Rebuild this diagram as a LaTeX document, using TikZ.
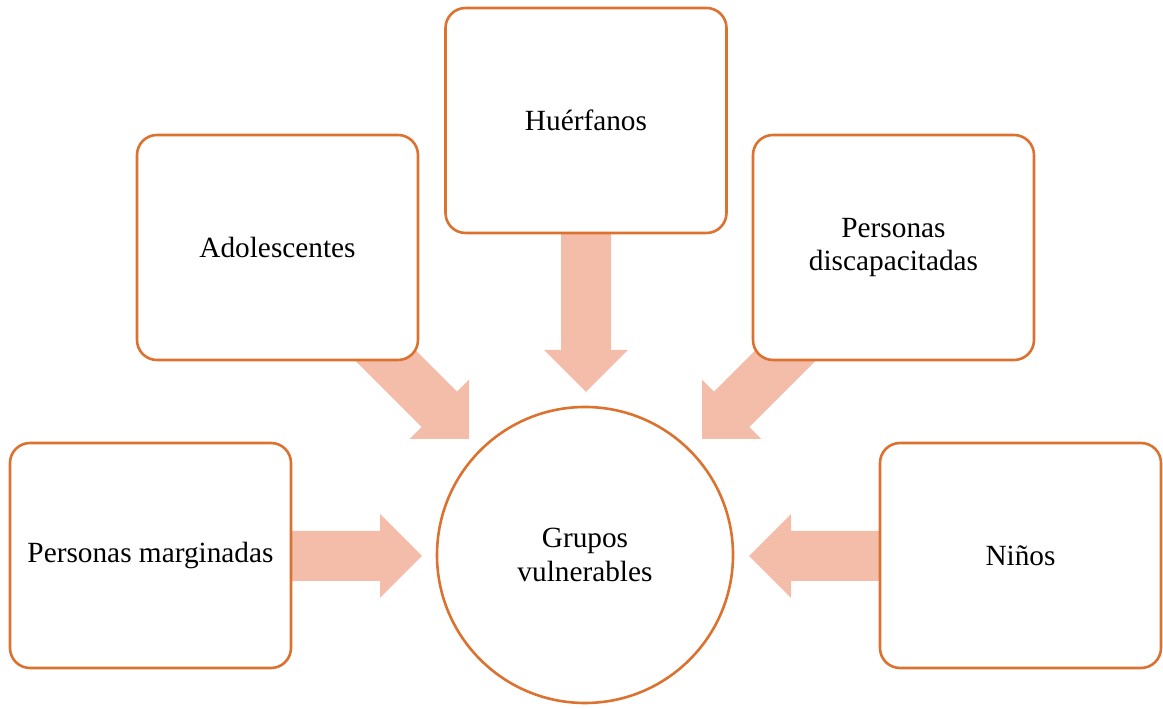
\documentclass[tikz,border=0pt]{standalone}
\usepackage{fontspec}
\setmainfont{Liberation Serif}
\usepackage{tikz}
\usetikzlibrary{calc}

\definecolor{boxline}{HTML}{DC722F}
\definecolor{arrowpink}{HTML}{F4BDA9}

\tikzset{
  box/.style={draw=boxline, line width=2.6pt, fill=white, rounded corners=20pt,
    minimum width=281pt, minimum height=225pt, align=center,
    font=\fontsize{29.3}{33.5}\selectfont},
  hub/.style={draw=boxline, line width=2.6pt, fill=white, circle, minimum size=296pt,
    align=center, font=\fontsize{29.3}{33.5}\selectfont},
  arrowfill/.style={fill=arrowpink}
}

% block arrow: tip, angle, length
\newcommand{\bigarrow}[3]{%
  \fill[arrowfill, shift={(#1)}, rotate=#2] (0,0) -- (-42,42) -- (-42,25) -- (-#3,25)
    -- (-#3,-25) -- (-42,-25) -- (-42,-42) -- cycle;}

\begin{document}
\begin{tikzpicture}[x=1pt, y=1pt]
        \useasboundingbox (0,0) rectangle (1163,709);

        \coordinate (tiptop) at (586,317);
        \coordinate (tipadol) at (469,270);
        \coordinate (tipdisc) at (702,270);
        \coordinate (tipmarg) at (422,153);
        \coordinate (tipnin) at (749,153);

        \bigarrow{tiptop}{-90}{159}
        \bigarrow{tipadol}{-45}{150}
        \bigarrow{tipdisc}{-135}{150}
        \bigarrow{tipmarg}{0}{131}
        \bigarrow{tipnin}{180}{131}

        \node[box] (huerf) at (586,588.5) {Huérfanos};
        \node[box] (adol) at (277.5,461.5) {Adolescentes};
        \node[box] (disc) at (893.5,461.5) {Personas\\discapacitadas};
        \node[box] (marg) at (150.5,153.5) {Personas marginadas};
        \node[box] (ninos) at (1020.5,153.5) {Niños};

        \node[hub] (grupos) at (585,154) {Grupos\\vulnerables};
\end{tikzpicture}
\end{document}
